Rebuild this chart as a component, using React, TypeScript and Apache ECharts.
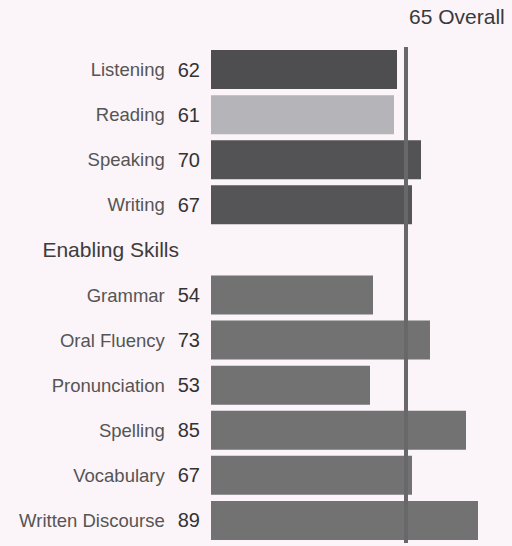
import React, { useEffect, useRef } from "react";
import * as echarts from "echarts";

const communicativeSkills = ["Listening", "Reading", "Speaking", "Writing"];
const communicativeScores = [62, 61, 70, 67];
const communicativeColors = ["#4e4e51", "#b5b4b9", "#535355", "#555557"];
const sectionHeader = "Enabling Skills";
const enablingSkills = ["Grammar", "Oral Fluency", "Pronunciation", "Spelling", "Vocabulary", "Written Discourse"];
const enablingScores = [54, 73, 53, 85, 67, 89];
const enablingColor = "#727273";
const overallScore = 65;

const FONT = "'Liberation Sans', Arial, sans-serif";

export default function App() {
  const ref = useRef<HTMLDivElement>(null);
  useEffect(() => {
    if (!ref.current) return;
    const chart = echarts.init(ref.current, undefined, { renderer: "svg" });
    const categories = [...communicativeSkills, sectionHeader, ...enablingSkills];
    const scores: (number | null)[] = [...communicativeScores, null, ...enablingScores];
    const data = categories.map((c, i) => {
      if (scores[i] == null) return { value: null };
      const color = i < communicativeSkills.length ? communicativeColors[i] : enablingColor;
      return { value: scores[i], itemStyle: { color } };
    });
    chart.setOption({
      animation: false,
      backgroundColor: "#fbf4f8",
      grid: { left: 211, width: 300, top: 47, bottom: 3, containLabel: false },
      xAxis: {
        type: "value",
        min: 0,
        max: 100,
        show: false,
      },
      yAxis: {
        type: "category",
        data: categories,
        inverse: true,
        axisLine: { show: false },
        axisTick: { show: false },
        axisLabel: {
          margin: 11,
          fontFamily: FONT,
          formatter: (val: string, idx: number) => {
            if (scores[idx] == null) return `{h|${val}}`;
            return `{n|${val}}{v|${scores[idx]}}`;
          },
          rich: {
            n: { fontSize: 18.5, color: "#555555", fontFamily: FONT },
            v: { fontSize: 20, color: "#333333", fontFamily: FONT, padding: [0, 0, 0, 13] },
            h: { fontSize: 21, color: "#3c3c3c", fontFamily: FONT, padding: [0, 21, 0, 0] },
          },
        },
      },
      series: [
        {
          type: "bar",
          data,
          barWidth: 39,
          markLine: {
            symbol: "none",
            silent: true,
            label: { show: false },
            lineStyle: { color: "#68686a", width: 4, type: "solid" },
            data: [{ xAxis: overallScore }],
          },
        },
      ],
    });
    const px = chart.convertToPixel({ xAxisIndex: 0 }, overallScore) as number;
    chart.setOption({
      graphic: [
        {
          type: "text",
          x: px + 3,
          y: 6,
          style: {
            text: `${overallScore} Overall`,
            fontSize: 21,
            fontFamily: FONT,
            fill: "#3a3a3a",
          },
        },
      ],
    });
    return () => chart.dispose();
  }, []);
  return (
    <div
      ref={ref}
      style={{ position: "fixed", left: 0, top: 0, width: 512, height: 546 }}
    />
  );
}
